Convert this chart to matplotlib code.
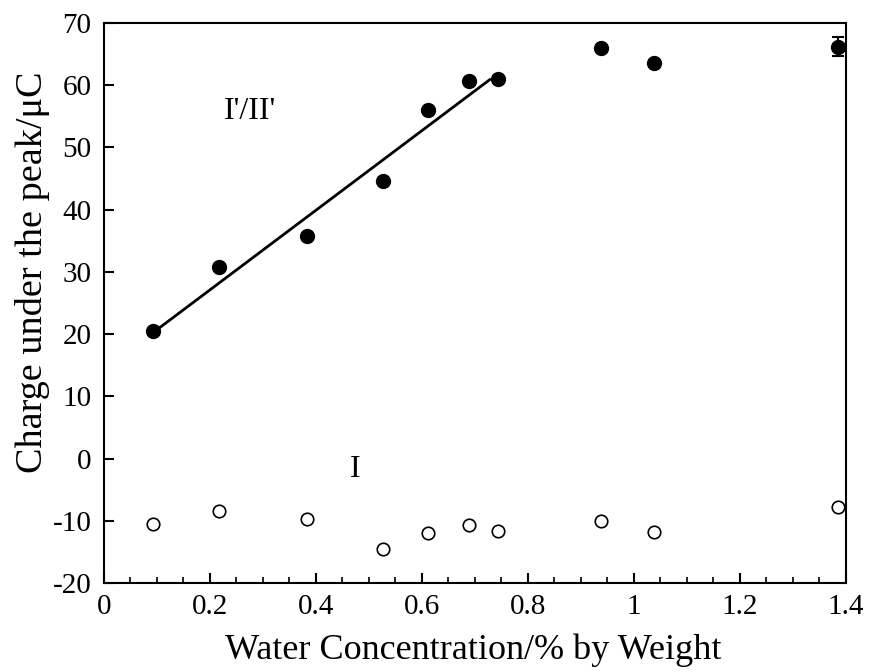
import matplotlib
matplotlib.use("Agg")
import matplotlib.pyplot as plt
from matplotlib.ticker import MultipleLocator

plt.rcParams['font.family'] = ['Liberation Serif', 'DejaVu Serif']
plt.rcParams['axes.unicode_minus'] = False

# charge under peak I'/II' (filled) and peak I (open) vs water content
water = [0.092, 0.217, 0.383, 0.526, 0.611, 0.689, 0.743, 0.938, 1.038, 1.385]
charge_peak2 = [20.5, 30.8, 35.8, 44.6, 56.0, 60.7, 61.0, 66.0, 63.6, 66.2]
charge_peak1 = [-10.5, -8.4, -9.7, -14.5, -12.0, -10.7, -11.6, -10.0, -11.8, -7.8]
err_peak2 = [0, 0, 0, 0, 0, 0, 0, 0, 0, 1.5]
err_peak1 = [0, 0, 0, 0, 0, 0, 0, 0, 0, 1.0]

# linear fit over the rising part
fit_x = [0.092, 0.728]
fit_y = [20.2, 60.9]

fig = plt.figure(figsize=(8.7, 6.72), dpi=100)
ax = fig.add_axes([0.1195, 0.1324, 0.8529, 0.8334])

ax.errorbar(water, charge_peak2, yerr=err_peak2, fmt='o', color='black',
            markersize=10, capsize=4, elinewidth=1.5, capthick=1.5, zorder=3)
ax.errorbar(water, charge_peak1, yerr=err_peak1, fmt='o', color='black',
            markerfacecolor='white', markersize=9, markeredgewidth=1.2,
            capsize=0, elinewidth=0.8, zorder=3)
ax.plot(fit_x, fit_y, color='black', lw=2, zorder=2)

ax.text(0.275, 55.7, "I'/II'", fontsize=23, ha='center', va='center')
ax.text(0.474, -1.8, "I", fontsize=23, ha='center', va='center')

ax.set_xlim(0, 1.4)
ax.set_ylim(-20, 70)
ax.xaxis.set_minor_locator(MultipleLocator(0.05))
ax.yaxis.set_major_locator(MultipleLocator(10))
ax.set_xticks([0, 0.2, 0.4, 0.6, 0.8, 1.0, 1.2, 1.4])
ax.set_xticklabels(['0', '0.2', '0.4', '0.6', '0.8', '1', '1.2', '1.4'])
ax.tick_params(axis='both', which='major', direction='in', length=7, width=1.5,
               labelsize=21, top=False, right=False)
ax.tick_params(axis='x', which='major', pad=8)
ax.tick_params(axis='y', which='major', pad=9)
ax.tick_params(axis='x', which='minor', direction='in', length=4, width=1.2,
               top=False)
for s in ax.spines.values():
    s.set_linewidth(1.5)

ax.set_xlabel('Water Concentration/% by Weight', fontsize=26)
ax.set_ylabel('Charge under the peak/\u03bcC', fontsize=27.5)
ax.xaxis.set_label_coords(0.497, -0.091)
ax.yaxis.set_label_coords(-0.073, 0.555)

fig.savefig('out.png', dpi=100)
